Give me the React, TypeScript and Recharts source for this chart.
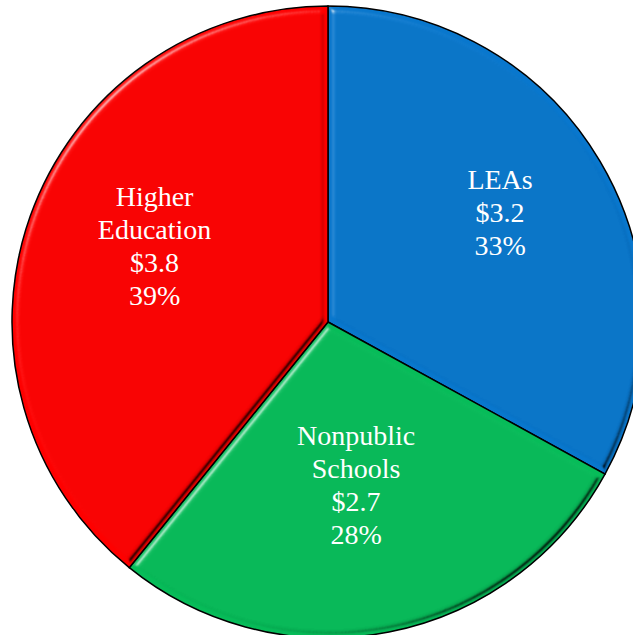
import React from 'react';
import { PieChart, Pie, Cell } from 'recharts';

const categories: string[][] = [['LEAs'], ['Nonpublic', 'Schools'], ['Higher', 'Education']];
const amounts: number[] = [3.2, 2.7, 3.8];
const amountLabels: string[] = ['$3.2', '$2.7', '$3.8'];
const percentLabels: string[] = ['33%', '28%', '39%'];

const colors = ['#0977CD', '#07BC59', '#FE0000'];
const labelRadius = [0.645, 0.526, 0.598];
const labelAngleShift = [1.8, -1.4, -3.9];

const data = categories.map((c, i) => ({
  name: c.join(' '),
  value: amounts[i],
  lines: [...c, amountLabels[i], percentLabels[i]],
}));

const RAD = Math.PI / 180;
const LINE = 33;

const renderLabel = (props: any) => {
  const { cx, cy, midAngle, outerRadius, index } = props;
  const r = outerRadius * labelRadius[index];
  const a = (midAngle + labelAngleShift[index]) * RAD;
  const x = cx + r * Math.cos(a);
  const y = cy - r * Math.sin(a);
  const lines: string[] = data[index].lines;
  const first = y - ((lines.length - 1) / 2) * LINE + 9;
  return (
    <text
      key={`lbl-${index}`}
      x={x}
      y={first}
      fill="#ffffff"
      textAnchor="middle"
      fontFamily="'Liberation Serif', 'Times New Roman', serif"
      fontSize={28}
    >
      {lines.map((t, i) => (
        <tspan key={i} x={x} y={first + i * LINE}>
          {t}
        </tspan>
      ))}
    </text>
  );
};

export default function App() {
  return (
    <div style={{ position: 'absolute', left: 0, top: 0, width: 633, height: 635, background: '#fff' }}>
      <PieChart width={633} height={635} margin={{ top: 0, right: 0, bottom: 0, left: 0 }}>
        <defs>
          <filter id="bevel" x="-5%" y="-5%" width="110%" height="110%" colorInterpolationFilters="sRGB">
            <feGaussianBlur in="SourceAlpha" stdDeviation="3.5" result="blur" />
            <feSpecularLighting
              in="blur"
              surfaceScale="6"
              specularConstant="1"
              specularExponent="30"
              lightingColor="#ffffff"
              result="specL"
            >
              <feDistantLight azimuth="225" elevation="35" />
            </feSpecularLighting>
            <feColorMatrix
              in="specL"
              type="matrix"
              values="0 0 0 0 1  0 0 0 0 1  0 0 0 0 1  0 0 0 0.6 0"
              result="lightOv"
            />
            <feComposite in="lightOv" in2="SourceAlpha" operator="in" result="lightIn" />
            <feSpecularLighting
              in="blur"
              surfaceScale="6"
              specularConstant="1"
              specularExponent="30"
              lightingColor="#ffffff"
              result="specD"
            >
              <feDistantLight azimuth="45" elevation="35" />
            </feSpecularLighting>
            <feColorMatrix
              in="specD"
              type="matrix"
              values="0 0 0 0 0  0 0 0 0 0  0 0 0 0 0  0 0 0 0.75 0"
              result="darkOv"
            />
            <feComposite in="darkOv" in2="SourceAlpha" operator="in" result="darkIn" />
            <feMerge>
              <feMergeNode in="SourceGraphic" />
              <feMergeNode in="darkIn" />
              <feMergeNode in="lightIn" />
            </feMerge>
          </filter>
        </defs>
        <Pie
          data={data}
          dataKey="value"
          nameKey="name"
          cx={328}
          cy={322}
          outerRadius={316}
          startAngle={90}
          endAngle={-270}
          stroke="#000000"
          strokeWidth={1.5}
          labelLine={false}
          label={renderLabel}
          isAnimationActive={false}
        >
          {data.map((d, i) => (
            <Cell key={d.name} fill={colors[i]} style={{ filter: 'url(#bevel)' }} />
          ))}
        </Pie>
      </PieChart>
    </div>
  );
}
